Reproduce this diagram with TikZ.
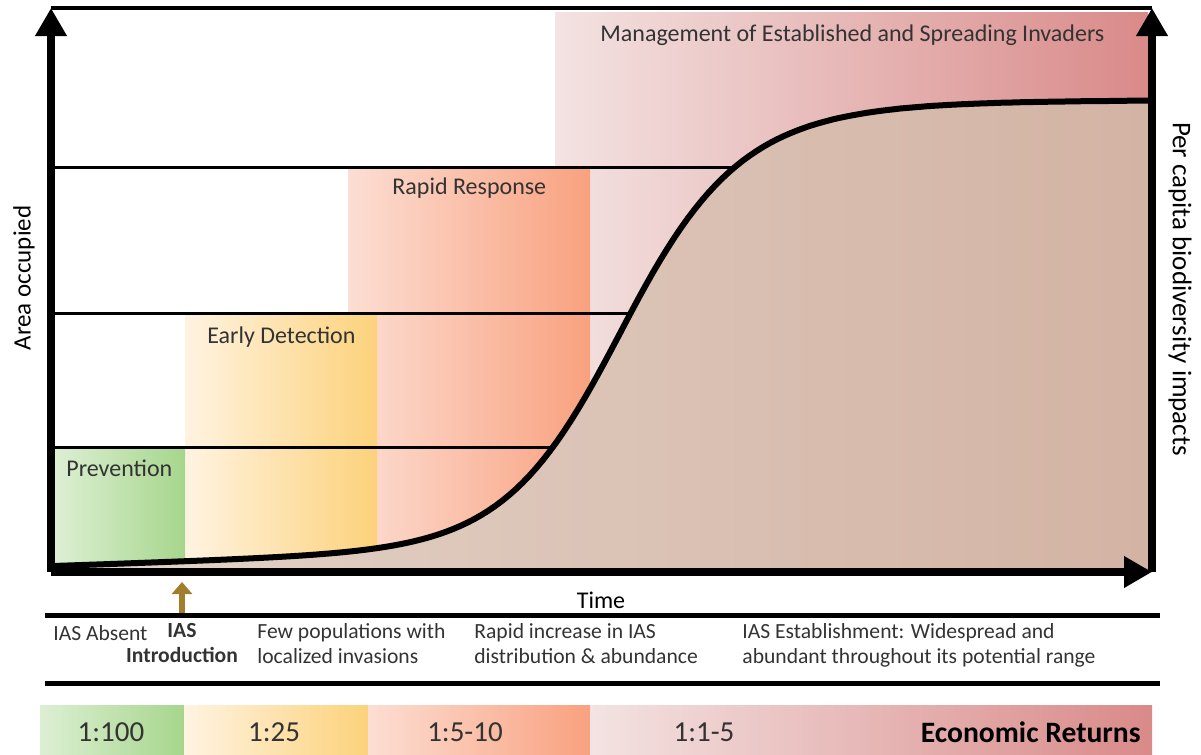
\documentclass[tikz,border=0pt]{standalone}
\usepackage{fontspec}
\setmainfont{Carlito}
\usetikzlibrary{arrows.meta}

\definecolor{prevL}{HTML}{DDEFD3}
\definecolor{prevR}{HTML}{A6D68C}
\definecolor{earlyL}{HTML}{FFF3E1}
\definecolor{earlyR}{HTML}{FCD27B}
\definecolor{rapidL}{HTML}{FCDED3}
\definecolor{rapidR}{HTML}{F9A17F}
\definecolor{mgmtL}{HTML}{F3E3E2}
\definecolor{mgmtR}{HTML}{D98A89}
\definecolor{areaL}{HTML}{E3D4C8}
\definecolor{areaR}{HTML}{D3B3A4}
\definecolor{introbrown}{HTML}{A27D2B}
\definecolor{labelgray}{HTML}{333333}

\def\growthcurve{plot[domain=55:1148, samples=160, variable=\t] (\t, {areay(\t)})}

\begin{document}
\begin{tikzpicture}[x=0.5pt, y=-0.5pt,
  declare function={
    logu(\x)=(\x<622.7) ? (\x-622.7)/58.7 : (\x-622.7)/(58.7+0.04*(\x-622.7));
    occ(\x)=1/(1+exp(-max(-9,logu(\x))));
    areay(\x)=566-466*occ(\x)-12*(\x-55)/345*(1-occ(\x))^2;},
  axis/.style={line width=4pt, -{Triangle[length=14pt, width=15pt]}},
  phase line/.style={line width=1.5pt},
  rule/.style={line width=2.5pt},
  phase label/.style={text=labelgray, font=\fontsize{12}{14}\selectfont, inner sep=0pt},
  stage text/.style={text=labelgray, font=\fontsize{10.8}{12.5}\selectfont, align=left, inner sep=0pt},
  ratio/.style={text=labelgray, font=\fontsize{14.5}{16}\selectfont, inner sep=0pt}]
\useasboundingbox (0,0) rectangle (1201,755);

% phases
\shade[left color=mgmtL, right color=mgmtR] (555,12) rectangle (1148,570);
\shade[left color=rapidL, right color=rapidR] (348,169) rectangle (590,570);
\shade[left color=earlyL, right color=earlyR] (185,315) rectangle (377,570);
\shade[left color=prevL, right color=prevR] (55,449) rectangle (185,570);

% axes corners
\coordinate (O) at (51,572);
\coordinate (Ytop) at (51,8);
\coordinate (Xend) at (1152,572);
\coordinate (Rtop) at (1152,8);

% phase boundaries, run under the curve
\coordinate (c1) at (562,447);
\coordinate (c2) at (640,313);
\coordinate (c3) at (745,167);
\draw[phase line] (51,447) -- (c1);
\draw[phase line] (51,313) -- (c2);
\draw[phase line] (51,167) -- (c3);

% area occupied
\shade[left color=areaL, right color=areaR] \growthcurve -- (1148,568) -- (55,568) -- cycle;
\draw[line width=3pt, line join=round] \growthcurve;

\draw[line width=2pt] (Ytop) -- (Rtop);
\draw[axis] (O) -- (Ytop);
\draw[axis] (Xend) -- (Rtop);
\draw[axis] (O) -- (Xend);

\node[phase label, anchor=west] (prev) at (66,468) {Prevention};
\node[phase label, anchor=west] (early) at (207,337) {Early Detection};
\node[phase label, anchor=west] (rapid) at (392,188) {Rapid Response};
\node[phase label, anchor=west] (mgmt) at (600,35) {Management of Established and Spreading Invaders};

\node[rotate=90, font=\fontsize{12.5}{14}\selectfont] (ylab) at (24,278) {Area occupied};
\node[rotate=-90, font=\fontsize{13.5}{15}\selectfont] (rlab) at (1180,289) {Per capita biodiversity impacts};
\node[font=\fontsize{12}{14}\selectfont] (time) at (601,600) {Time};

% stages along time
\draw[rule] (45,615) -- (1160,615);
\draw[rule] (45,683) -- (1160,683);
\coordinate (intro) at (182,613);
\coordinate (introtip) at (182,582);
\draw[introbrown, line width=3pt, -{Triangle[length=6pt, width=10pt]}] (intro) -- (introtip);

\node[stage text, anchor=west] (absent) at (53,633) {IAS Absent};
\node[stage text, align=center, anchor=north, font=\fontsize{10.8}{12.5}\selectfont\bfseries] (introduction) at (182,623) {IAS\\Introduction};
\node[stage text, anchor=north west] (few) at (257,623) {Few populations with\\localized invasions};
\node[stage text, anchor=north west] (increase) at (474,623) {Rapid increase in IAS\\distribution \& abundance};
\node[stage text, anchor=north west] (establish) at (742,623) {IAS Establishment: Widespread and\\abundant throughout its potential range};

% economic returns band
\shade[left color=prevL, right color=prevR] (40,705) rectangle (184,755);
\shade[left color=earlyL, right color=earlyR] (184,705) rectangle (368,755);
\shade[left color=rapidL, right color=rapidR] (368,705) rectangle (590,755);
\shade[left color=mgmtL, right color=mgmtR] (590,705) rectangle (1152,755);
\node[ratio] (r1) at (111,732) {1:100};
\node[ratio] (r2) at (274,732) {1:25};
\node[ratio] (r3) at (465,732) {1:5-10};
\node[ratio] (r4) at (704,732) {1:1-5};
\node[ratio, anchor=east, text=black, font=\fontsize{14.8}{16}\selectfont\bfseries] (returns) at (1141,732) {Economic Returns};
\end{tikzpicture}
\end{document}
